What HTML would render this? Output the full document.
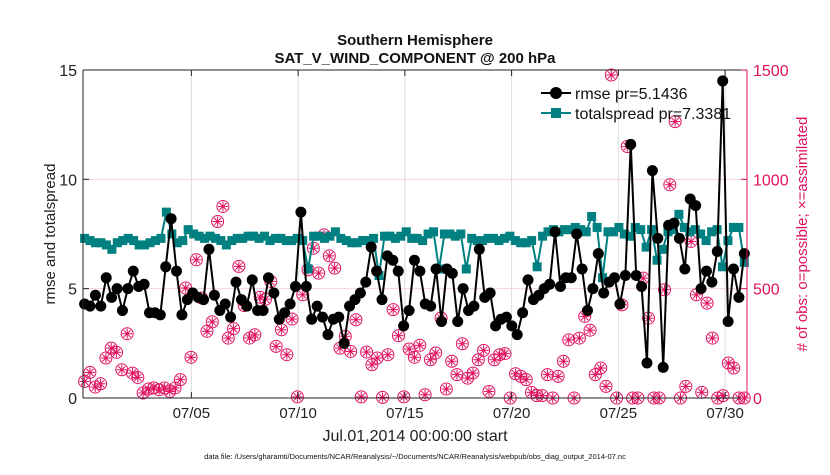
<!DOCTYPE html>
<html><head><meta charset="utf-8"><style>
body{margin:0;background:#fff;}
svg{font-family:"Liberation Sans",Arial,sans-serif;}
</style></head><body>
<svg id="chart" width="830" height="470" viewBox="0 0 830 470">
<rect width="830" height="470" fill="#fff"/>
</svg>
<script>
const rmseValues=[4.3,4.2,4.7,4.2,5.5,4.6,5.0,4.0,5.0,5.8,5.1,5.2,3.9,3.9,3.8,6.0,8.2,5.8,3.8,4.5,4.8,4.6,4.5,6.8,4.7,4.0,4.3,3.7,5.3,4.5,4.2,5.4,4.0,4.0,5.5,4.8,3.6,3.9,4.3,5.1,8.5,
5.1,3.6,4.2,3.7,2.9,3.6,3.7,2.5,4.2,4.5,4.8,5.3,6.9,5.8,4.5,6.5,6.3,5.8,3.3,4.0,6.3,5.8,4.3,4.2,5.9,3.5,5.9,5.7,3.5,5.0,4.0,4.2,6.8,4.6,4.8,3.3,3.6,3.7,3.3,2.9,3.9,5.4,4.5,4.7,
5.0,5.2,7.6,5.1,5.5,5.5,7.5,5.9,4.0,5.0,6.6,4.8,5.3,5.5,4.3,5.6,11.6,5.6,5.1,1.6,10.4,7.3,1.4,7.9,8.0,7.3,5.9,9.1,8.8,5.0,5.8,5.3,6.7,14.5,3.5,5.9,4.6,6.6];
const spreadValues=[7.3,7.2,7.1,7.1,7.0,6.8,7.1,7.2,7.3,7.2,7.0,7.0,7.1,7.2,7.3,8.5,7.5,7.1,7.2,7.7,7.5,7.4,7.3,7.4,7.3,7.2,7.0,7.2,7.3,7.3,7.4,7.4,7.3,7.4,7.2,7.3,7.3,7.2,7.2,7.3,7.2,
5.9,7.4,7.4,7.3,7.4,7.6,7.3,7.2,7.1,7.1,7.2,7.2,7.3,5.6,7.4,7.4,7.3,7.4,7.6,7.3,7.3,7.2,7.5,7.6,5.9,7.5,7.5,7.4,7.5,5.9,7.3,7.2,7.2,7.3,7.3,7.2,7.3,7.4,7.2,7.1,7.1,7.2,6.0,7.4,7.6,7.7,
7.6,7.7,7.7,7.8,7.7,7.6,8.3,7.8,5.5,7.6,7.6,7.8,7.5,7.4,7.8,7.7,6.9,7.7,6.3,6.8,7.6,7.7,8.4,7.8,7.6,7.7,7.5,7.2,7.6,7.7,6.0,7.2,7.8,7.8,6.2];
const obsValues=[76,117,50,65,183,228,209,129,294,114,94,23,41,46,38,46,30,46,84,503,186,632,457,305,348,807,876,274,317,602,423,274,289,461,452,533,236,312,198,361,5,472,
586,685,571,746,650,594,228,282,213,358,5,210,152,183,3,198,404,285,5,224,186,241,15,175,206,366,41,168,107,248,91,114,175,218,30,175,198,203,0,111,99,84,
26,11,11,107,0,99,168,266,0,274,373,310,107,137,53,1477,0,426,1150,0,0,548,365,0,0,495,975,1264,0,53,716,472,26,434,274,0,11,160,137,0,0];
const leftTicks=[0,5,10,15];
const rightTicks=[0,500,1000,1500];
const dateTicks=[5,10,15,20,25,30];
const dateLabels=["07/05","07/10","07/15","07/20","07/25","07/30"];
const legendLabels=["rmse pr=5.1436","totalspread pr=7.3381"];

const NS="http://www.w3.org/2000/svg";
const svg=document.getElementById('chart');
const L=83,R=747,T=70,B=398;
const xDay=d=>84.6+21.35*d;
const yL=v=>B-(v/15)*(B-T);
const yR=v=>B-(v/1500)*(B-T);
const PINK="#e0115f", TEAL="#008080";
function mk(tag,attrs,parent){const e=document.createElementNS(NS,tag);for(const k in attrs)e.setAttribute(k,attrs[k]);(parent||svg).appendChild(e);return e;}
function dayOf(i,n){return i*30.9/(n-1);}

// grid
dateTicks.forEach(d=>{const g=mk('line',{x1:xDay(d),x2:xDay(d),y1:T,y2:B,stroke:'#dcdcdc','stroke-width':1});

});
[5,10].forEach(v=>{const g=mk('line',{x1:L,x2:R,y1:yL(v),y2:yL(v),stroke:'#f3d3de','stroke-width':1});

});

// obs
const og=mk('g',{});


obsValues.forEach((v,i)=>{const cx=xDay(dayOf(i,obsValues.length)),cy=yR(v);
const g=mk('g',{stroke:PINK,'stroke-width':1,fill:'none'},og);


mk('circle',{cx:cx,cy:cy,r:6},g);
for(let a=0;a<4;a++){const an=a*Math.PI/4;mk('line',{x1:cx-5*Math.cos(an),y1:cy-5*Math.sin(an),x2:cx+5*Math.cos(an),y2:cy+5*Math.sin(an)},g);}
});

// spread
const sg=mk('g',{});


mk('polyline',{points:spreadValues.map((v,i)=>xDay(dayOf(i,spreadValues.length))+','+yL(v)).join(' '),fill:'none',stroke:TEAL,'stroke-width':2},sg);
spreadValues.forEach((v,i)=>{const r=mk('rect',{x:xDay(dayOf(i,spreadValues.length))-4.5,y:yL(v)-4.5,width:9,height:9,fill:TEAL},sg);

});

// rmse
const rg=mk('g',{});


mk('polyline',{points:rmseValues.map((v,i)=>xDay(dayOf(i,rmseValues.length))+','+yL(v)).join(' '),fill:'none',stroke:'#000','stroke-width':2},rg);
rmseValues.forEach((v,i)=>{const c=mk('circle',{cx:xDay(dayOf(i,rmseValues.length)),cy:yL(v),r:5.5,fill:'#000'},rg);

});

// axes
const ax=mk('g',{});


mk('line',{x1:L,x2:R,y1:T,y2:T,stroke:'#222','stroke-width':1},ax);
mk('line',{x1:L,x2:R,y1:B,y2:B,stroke:'#222','stroke-width':1},ax);
mk('line',{x1:L,x2:L,y1:T,y2:B,stroke:'#222','stroke-width':1},ax);
mk('line',{x1:R,x2:R,y1:T,y2:B,stroke:PINK,'stroke-width':1},ax);
leftTicks.forEach(v=>{mk('line',{x1:L,x2:L+6,y1:yL(v),y2:yL(v),stroke:'#222'},ax);
const t=mk('text',{x:L-6,y:yL(v)+6,'text-anchor':'end','font-size':16,fill:'#222'},ax);t.textContent=v;

});
rightTicks.forEach(v=>{mk('line',{x1:R,x2:R-6,y1:yR(v),y2:yR(v),stroke:PINK},ax);
const t=mk('text',{x:R+6,y:yR(v)+6,'font-size':16,fill:PINK},ax);t.textContent=v;

});
dateTicks.forEach((d,i)=>{mk('line',{x1:xDay(d),x2:xDay(d),y1:B,y2:B-6,stroke:'#222'},ax);mk('line',{x1:xDay(d),x2:xDay(d),y1:T,y2:T+6,stroke:'#222'},ax);
const t=mk('text',{x:xDay(d),y:B+20,'text-anchor':'middle','font-size':15,fill:'#222'},ax);t.textContent=dateLabels[i];

});

// legend
const lg=mk('g',{});


mk('line',{x1:541,x2:571,y1:93,y2:93,stroke:'#000','stroke-width':2},lg);
mk('circle',{cx:556,cy:93,r:6,fill:'#000'},lg);
mk('line',{x1:541,x2:571,y1:113,y2:113,stroke:TEAL,'stroke-width':2},lg);
mk('rect',{x:551,y:108,width:10,height:10,fill:TEAL},lg);
legendLabels.forEach((s,i)=>{const t=mk('text',{x:575,y:99+i*20,'font-size':16,fill:'#111'},lg);t.textContent=s;

});
</script>
<svg width="830" height="470" style="position:absolute;left:0;top:0;pointer-events:none">
<text x="415" y="45" text-anchor="middle" font-size="15" font-weight="bold" fill="#111" font-family="Liberation Sans, sans-serif">Southern Hemisphere</text>
<text x="415" y="63" text-anchor="middle" font-size="15" font-weight="bold" fill="#111" font-family="Liberation Sans, sans-serif">SAT_V_WIND_COMPONENT @ 200 hPa</text>
<text transform="translate(55,234) rotate(-90)" text-anchor="middle" font-size="15" fill="#222" font-family="Liberation Sans, sans-serif">rmse and totalspread</text>
<text transform="translate(807,234) rotate(-90)" text-anchor="middle" font-size="15" fill="#e0115f" font-family="Liberation Sans, sans-serif"># of obs: o=possible; ×=assimilated</text>
<text x="415" y="441" text-anchor="middle" font-size="16" fill="#222" font-family="Liberation Sans, sans-serif">Jul.01,2014 00:00:00 start</text>
<text x="415" y="459" text-anchor="middle" font-size="7.5" fill="#111" font-family="Liberation Sans, sans-serif">data file: /Users/gharamti/Documents/NCAR/Reanalysis/~/Documents/NCAR/Reanalysis/webpub/obs_diag_output_2014-07.nc</text>
</svg>
<style>body{position:relative;}</style>
</body></html>
